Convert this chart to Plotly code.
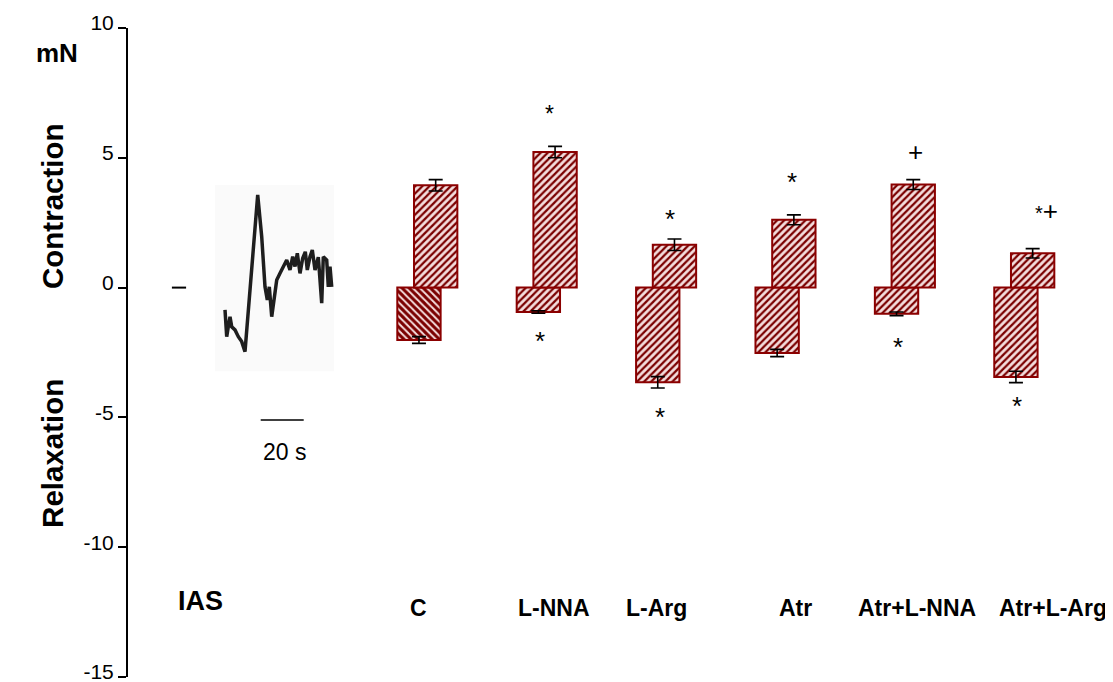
import plotly.graph_objects as go

# ---------------- data ----------------
categories = ["C", "L-NNA", "L-Arg", "Atr", "Atr+L-NNA", "Atr+L-Arg"]
contraction = [3.94, 5.22, 1.65, 2.61, 3.97, 1.32]
contraction_sem = [0.22, 0.22, 0.22, 0.19, 0.19, 0.18]
relaxation = [-2.02, -0.94, -3.65, -2.52, -1.01, -3.44]
relaxation_sem = [0.13, 0.05, 0.22, 0.14, 0.07, 0.22]
contraction_marks = ["", "*", "*", "*", "+", "*+"]
relaxation_marks = ["", "*", "*", "", "*", "*"]

# IAS example recording (time in s, force in mN)
trace_time_s = [0.0, 0.79, 1.53, 2.33, 3.12, 4.65, 6.19, 7.77, 9.30, 15.21, 17.07,
                18.60, 19.67, 20.60, 21.72, 22.79, 24.05, 25.58, 27.12, 28.70, 30.23,
                31.49, 32.56, 33.63, 34.88, 36.14, 37.35, 38.28, 39.53, 40.60, 41.86,
                43.40, 44.98, 45.72, 47.30, 48.05, 48.84, 49.63]
trace_force_mN = [-0.86, -1.89, -1.51, -1.12, -1.51, -1.63, -1.89, -2.08, -2.47, 3.57, 1.96,
                  0.03, -0.48, 0.03, -1.12, -0.35, 0.29, 0.55, 0.81, 1.06, 0.68,
                  1.19, 0.81, 1.32, 0.55, 1.13, 1.38, 0.68, 1.19, 1.45, 0.68,
                  1.17, -0.60, 1.19, 1.06, 0.03, 0.81, 0.03]
baseline_mN = 0
scale_bar_s = [16.6, 36.6]
scale_bar_level_mN = -5.10
y_ticks = [10, 5, 0, -5, -10, -15]

# ---------------- style / layout constants ----------------
FONT = "Arial, 'Liberation Sans', sans-serif"
BAR_W = 0.363
BAR_SHIFT = 0.07
FG = "#7a0000"
BG = "#f4dddd"
# pixel nudges of significance marks (dx, dy) relative to error-bar end
contr_mark_px = [None, (-6, 34), (-4, 22), (-2, 35), (2, 28), (14, 38)]
relax_mark_px = [None, (2, -26), (2, -27), None, (1, -29), (1, -21)]
label_nudge_px = [-9, 7, -10, 10, 12, 29]

x_idx = list(range(len(categories)))

fig = go.Figure()

# faint background of the pasted recording
fig.add_shape(type="rect", xref="x2", yref="y", x0=-4.6, x1=50.7, y0=-3.22, y1=3.95,
              fillcolor="#fafafa", line_width=0, layer="below")

fig.add_trace(go.Bar(
    x=[i - BAR_SHIFT for i in x_idx], y=relaxation, width=BAR_W,
    marker=dict(
        color=BG,
        line=dict(color="#8b0000", width=2),
        pattern=dict(shape=["\\", "/", "/", "/", "/", "/"], fgcolor=FG, bgcolor=BG,
                     size=5, solidity=[0.6, 0.45, 0.45, 0.45, 0.45, 0.45], fillmode="replace"),
    ),
    error_y=dict(type="data", array=relaxation_sem, color="black", thickness=1.6, width=7),
    showlegend=False, hoverinfo="skip"))

fig.add_trace(go.Bar(
    x=[i + BAR_SHIFT for i in x_idx], y=contraction, width=BAR_W,
    marker=dict(
        color=BG,
        line=dict(color="#8b0000", width=2),
        pattern=dict(shape="/", fgcolor=FG, bgcolor=BG, size=5, solidity=0.45, fillmode="replace"),
    ),
    error_y=dict(type="data", array=contraction_sem, color="black", thickness=1.6, width=7),
    showlegend=False, hoverinfo="skip"))

# recording trace
fig.add_trace(go.Scatter(x=trace_time_s, y=trace_force_mN, xaxis="x2", yaxis="y",
                         mode="lines", line=dict(color="#1e1e1e", width=3.5),
                         showlegend=False, hoverinfo="skip"))
# baseline marker
fig.add_trace(go.Scatter(x=[-24.7, -18.1], y=[baseline_mN, baseline_mN], xaxis="x2",
                         mode="lines", line=dict(color="black", width=2),
                         showlegend=False, hoverinfo="skip"))
# time scale bar
fig.add_trace(go.Scatter(x=scale_bar_s, y=[scale_bar_level_mN] * 2, xaxis="x2",
                         mode="lines", line=dict(color="black", width=1.6),
                         showlegend=False, hoverinfo="skip"))

ann = []
# significance marks
STAR_COMP = 2
for i in x_idx:
    t = contraction_marks[i]
    if t:
        dx, dy = contr_mark_px[i]
        if t == "*+":
            txt = "<span style='font-size:20px'>*</span>+"
            comp = 0
        elif t == "*":
            txt, comp = "*", STAR_COMP
        else:
            txt, comp = t, 0
        ann.append(dict(x=i + BAR_SHIFT, y=contraction[i] + contraction_sem[i], xref="x", yref="y",
                        text=txt, showarrow=False, xshift=dx, yshift=dy - comp,
                        font=dict(size=23 if i == 1 else 26, family=FONT, color="black")))
    t = relaxation_marks[i]
    if t:
        dx, dy = relax_mark_px[i]
        ann.append(dict(x=i - BAR_SHIFT, y=relaxation[i] - relaxation_sem[i], xref="x", yref="y",
                        text=t, showarrow=False, xshift=dx, yshift=dy - STAR_COMP,
                        font=dict(size=26, family=FONT, color="black")))

# category labels
for i, c in enumerate(categories):
    ann.append(dict(x=i, y=-12.33, xref="x", yref="y", text="<b>%s</b>" % c, showarrow=False,
                    xshift=label_nudge_px[i], font=dict(size=23, family=FONT, color="black")))

ann += [
    dict(x=-11.3, y=-12.06, xref="x2", yref="y", text="<b>IAS</b>", showarrow=False,
         font=dict(size=27, family=FONT, color="black")),
    dict(x=sum(scale_bar_s) / 2, y=-6.32, xref="x2", yref="y", text="20 s", showarrow=False,
         xshift=2, font=dict(size=23, family=FONT, color="black")),
    dict(x=-0.095, y=9.05, xref="paper", yref="y", text="<b>mN</b>", showarrow=False,
         font=dict(size=26, family=FONT, color="black")),
    dict(x=-0.0955, y=3.16, xref="paper", yref="y", text="<b>Contraction</b>", showarrow=False,
         textangle=-90, font=dict(size=29.5, family=FONT, color="black")),
    dict(x=-0.0955, y=-6.39, xref="paper", yref="y", text="<b>Relaxation</b>", showarrow=False,
         textangle=-90, font=dict(size=29.5, family=FONT, color="black")),
]

# page has an 8 px body margin: figure is sized to fit the 1113x682 window
fig.update_layout(
    width=1105, height=674,
    margin=dict(l=120, r=0, t=20, b=5, autoexpand=False),
    paper_bgcolor="white", plot_bgcolor="white",
    barmode="overlay",
    font=dict(family=FONT, color="black"),
    xaxis=dict(range=[-2.507, 5.743], visible=False, fixedrange=True, automargin=False),
    xaxis2=dict(range=[-45.12, 413.02], overlaying="x", visible=False, fixedrange=True,
                automargin=False),
    yaxis=dict(range=[-15, 10], tickvals=y_ticks, ticktext=[str(v) for v in y_ticks],
               showline=True, linecolor="black", linewidth=2, ticks="outside",
               ticklen=8, tickwidth=2, tickcolor="black", showgrid=False, zeroline=False,
               ticklabeloverflow="allow", automargin=False, ticklabelshift=-5,
               tickfont=dict(size=21, family=FONT, color="black"), fixedrange=True),
    annotations=ann,
)

fig.write_html("out.html")
